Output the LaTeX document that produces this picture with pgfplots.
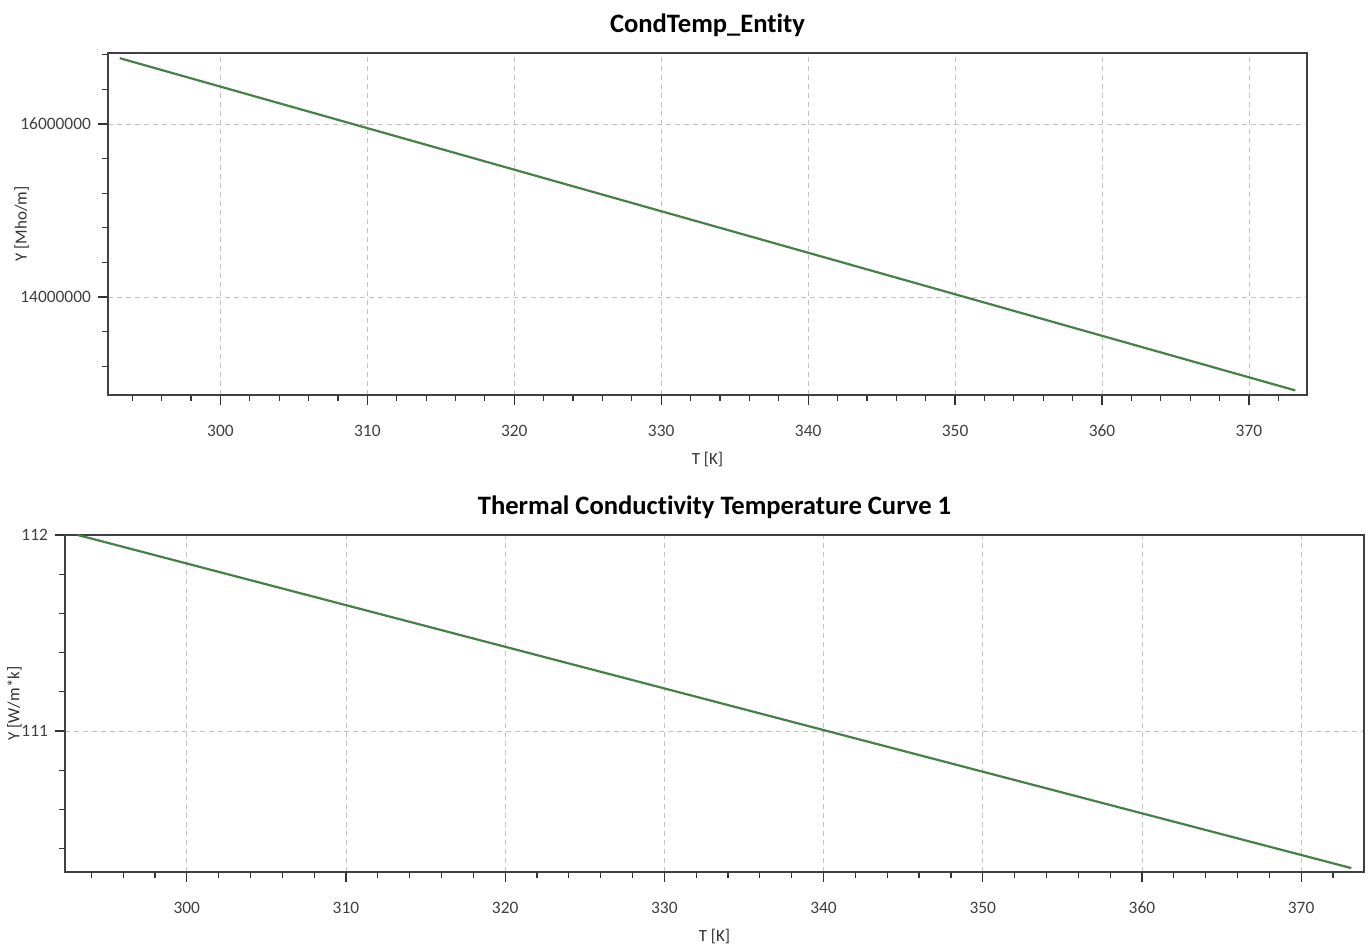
\documentclass[border=0pt]{standalone}
\usepackage{fontspec}
\setmainfont[Ligatures=NoCommon]{Carlito}
\usepackage{pgfplots}
\pgfplotsset{compat=1.18}
\definecolor{curvegreen}{RGB}{70,128,70}
\definecolor{gridgray}{RGB}{195,195,195}
\pgfplotsset{
  simchart/.style={
    scale only axis, anchor=south west,
    xmin=292.35, xmax=373.95,
    xtick={300,310,...,370}, minor xtick={294,296,...,372},
    tick pos=left, tick align=outside,
    major tick length=5pt, minor tick length=3pt,
    axis line style={draw=black!75, line width=0.9pt},
    tick style={black!80, line width=0.6pt},
    grid=major,
    major grid style={gridgray, dash pattern=on 2.5pt off 2pt, line width=0.4pt},
    tick label style={font=\fontsize{8.7}{10}\selectfont, text=black!75},
    xticklabel style={yshift=-6.5pt},
    /pgf/number format/assume math mode=true,
    /pgf/number format/fixed, /pgf/number format/1000 sep={},
    scaled ticks=false,
    label style={font=\fontsize{8.5}{10}\selectfont, text=black!80},
    title style={font=\fontsize{13.3}{16}\selectfont\bfseries, at={(0.5,1)}, anchor=center},
    xlabel={T [K]},
    xlabel style={at={(axis description cs:0.5,0)}, anchor=center, yshift=-32.5pt},
  }
}
\begin{document}
\begin{tikzpicture}
\path[use as bounding box] (0,0) rectangle (685pt,473pt);

% upper chart: electrical conductivity
\begin{axis}[simchart,
  at={(54pt,275.5pt)}, width=599.5pt, height=171pt,
  ymin=12867000, ymax=16820000,
  ytick={14000000,16000000},
  minor ytick={13200000,13600000,14400000,14800000,15200000,15600000,16400000,16800000},
  title={CondTemp\_Entity}, title style={yshift=8pt},
  ylabel={Y [Mho/m]},
  ylabel style={at={(axis description cs:-0.072,0.5)}, anchor=center},
]
\addplot[curvegreen, line width=1.1pt] coordinates {
  (293.15,16760000) (313.15,15800000) (333.15,14840000)
  (353.15,13880000) (373.15,12920000)
};
\end{axis}

% lower chart: thermal conductivity
\begin{axis}[simchart,
  at={(32.5pt,37pt)}, width=649.5pt, height=168.5pt,
  ymin=110.28, ymax=112.0,
  ytick={111,112},
  minor ytick={110.4,110.6,110.8,111.2,111.4,111.6,111.8},
  title={Thermal Conductivity Temperature Curve 1}, title style={yshift=8pt},
  ylabel={Y [W/m*k]},
  ylabel style={at={(axis description cs:-0.039,0.5)}, anchor=center},
]
\addplot[curvegreen, line width=1.1pt] coordinates {
  (293.15,112.0) (313.15,111.575) (333.15,111.15)
  (353.15,110.725) (373.15,110.3)
};
\end{axis}
\end{tikzpicture}
\end{document}
